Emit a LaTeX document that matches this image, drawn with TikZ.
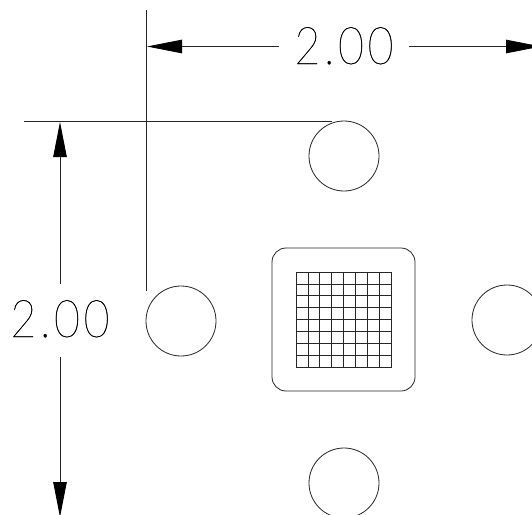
\documentclass[tikz,border=0pt]{standalone}
\usepackage{fontspec}
\setmainfont{Lato Hairline}[FakeStretch=0.86,LetterSpace=7,FakeBold=0.5]
\usetikzlibrary{arrows.meta}
\tikzset{
  cad/.style={line width=.8pt,color=black!85},
  hole/.style={circle,draw,cad,minimum size=70pt,inner sep=0pt,outer sep=0pt},
  dimtext/.style={inner sep=0pt,outer sep=0pt,font=\fontsize{52}{52}\selectfont,anchor=base,text=black},
  dimline/.style={cad,-{Triangle[length=35pt,width=13.5pt,color=black]}}
}
\begin{document}
\begin{tikzpicture}[x=1pt,y=-1pt]
\useasboundingbox (0,0) rectangle (532,514);
\clip (0,0) rectangle (532,514);
\fill[white] (0,0) rectangle (532,514);
% holes
\node[hole] (holetop) at (344,156) {};
\node[hole] (holeleft) at (181,321) {};
\node[hole] (holeright) at (507,320) {};
\node[hole] (holebottom) at (344,483) {};
% chip
\draw[cad,rounded corners=14pt] (272,248) rectangle (415,391);
\foreach \i in {0,...,8}{
  \draw[cad] ({296+\i*11.94},272) -- ({296+\i*11.94},367);
  \draw[cad] (296,{272+\i*11.9}) -- (391.5,{272+\i*11.9});
}
% extension lines
\coordinate (exttop) at (146.5,10);
\coordinate (extbottom) at (146.5,291);
\coordinate (extleft) at (24,121.5);
\coordinate (extright) at (332,121.5);
\draw[cad] (exttop) -- (extbottom);
\draw[cad] (extleft) -- (extright);
% dimension labels
\node[dimtext] (labeltop) at (344,64) {2.00};
\node[dimtext] (labelleft) at (60,337) {2.00};
% dimension arrows
\coordinate (tipleft) at (147,46.5);
\coordinate (tipright) at (541,46.5);
\coordinate (tipup) at (60,122);
\coordinate (tipdown) at (60,517);
\coordinate (topgapl) at (279,46.5);
\coordinate (topgapr) at (409,46.5);
\coordinate (leftgapt) at (60,284);
\coordinate (leftgapb) at (60,357);
\draw[dimline] (topgapl) -- (tipleft);
\draw[dimline] (topgapr) -- (tipright);
\draw[dimline] (leftgapt) -- (tipup);
\draw[dimline] (leftgapb) -- (tipdown);
\end{tikzpicture}
\end{document}
